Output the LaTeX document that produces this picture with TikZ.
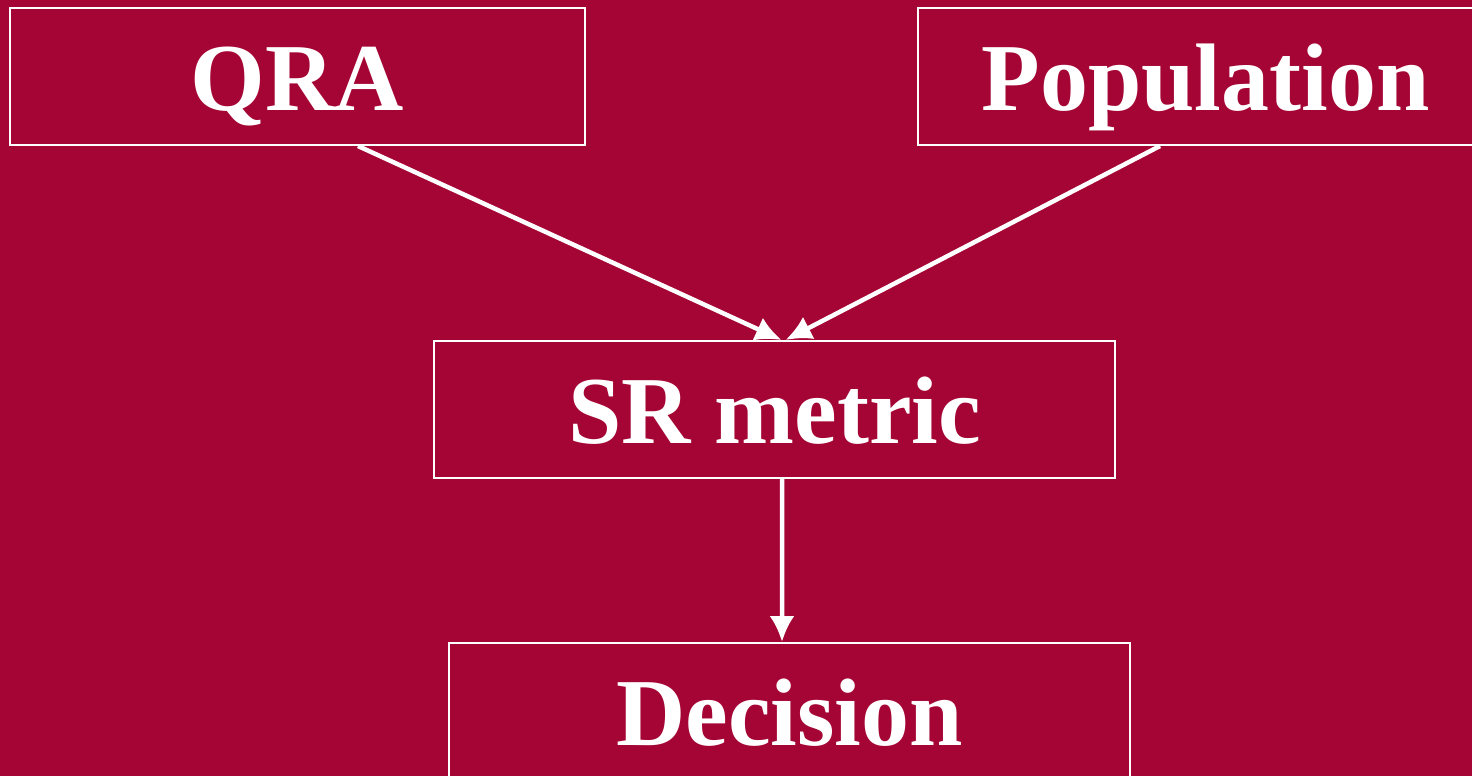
\documentclass[tikz,border=0pt]{standalone}
\usepackage{fontspec}
\setmainfont{Liberation Serif}
\usetikzlibrary{arrows.meta}
\definecolor{crimsonbg}{RGB}{165,5,52}
\tikzset{
  box/.style={draw=white, line width=0.020cm, text=white, inner sep=0pt,
    minimum height=1.370000cm, text height=0.710000cm, text depth=0.030000cm,
    font=\fontsize{27.3}{31}\selectfont\bfseries},
  link/.style={draw=white, line width=0.045cm, -{Latex[length=0.260cm,width=0.250cm]}}
}
\begin{document}
\begin{tikzpicture}
            \useasboundingbox (0,0) rectangle (14.720000,7.760000);
            \fill [crimsonbg] (0,0) rectangle (14.720000,7.760000);
            \clip (0,0) rectangle (14.720000,7.760000);
            
            % Drawing box QRA
            \node [box, minimum width=5.750000cm] (qra) at (2.975000,6.995000) {QRA};%
            
            % Drawing box Population
            \node [box, minimum width=5.750000cm] (pop) at (12.055000,6.995000) {Population};%
            
            % Drawing box SR metric
            \node [box, minimum width=6.810000cm] (sr) at (7.745000,3.665000) {SR metric};%
            
            % Drawing box Decision
            \node [box, minimum width=6.810000cm] (dec) at (7.895000,0.645000) {Decision};%
            
            % Drawing arrow QRA -> SR metric
            \draw [link] ([xshift=0.605000cm]qra.south) -- ([xshift=0.070000cm]sr.north);%
            
            % Drawing arrow Population -> SR metric
            \draw [link] ([xshift=-0.455000cm]pop.south) -- ([xshift=0.110000cm]sr.north);%
            
            % Drawing arrow SR metric -> Decision
            \draw [link] ([xshift=0.075000cm]sr.south) -- ([xshift=-0.075000cm]dec.north);%
\end{tikzpicture}
\end{document}
